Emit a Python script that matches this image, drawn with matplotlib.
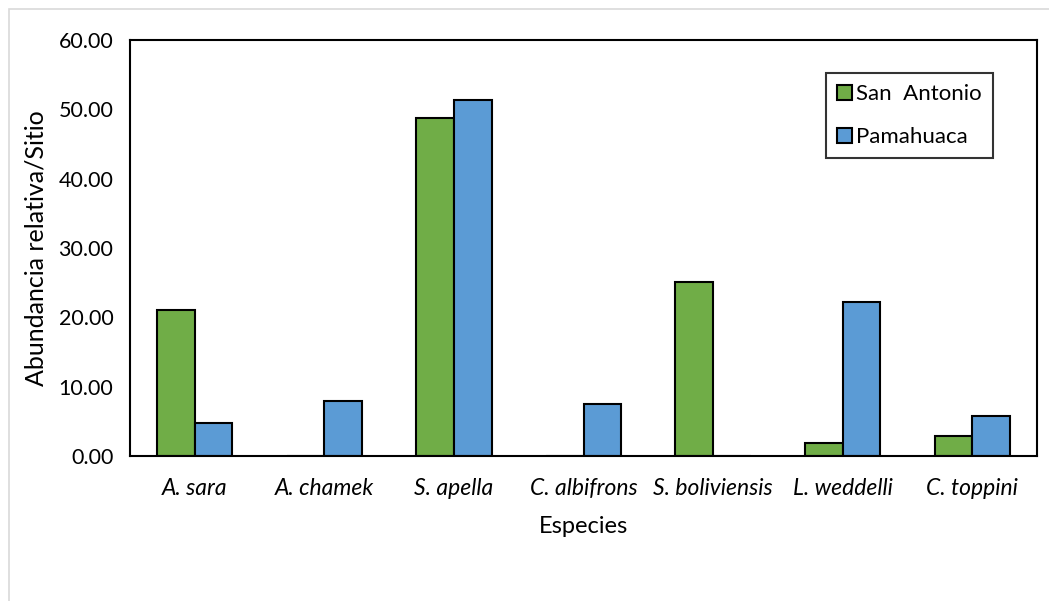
import numpy as np
import matplotlib.pyplot as plt
from matplotlib.patches import Rectangle

plt.rcParams['font.family'] = ['Lato', 'DejaVu Sans']

especies = ['A. sara', 'A. chamek', 'S. apella', 'C. albifrons',
            'S. boliviensis', 'L. weddelli', 'C. toppini']
san_antonio = [21.05, 0, 48.8, 0, 25.1, 1.9, 2.9]
pamahuaca = [4.8, 7.9, 51.4, 7.5, 0, 22.2, 5.8]
yticks = [0, 10, 20, 30, 40, 50, 60]

fig = plt.figure(figsize=(10.49, 6.01), dpi=100)
ax = fig.add_axes([130 / 1049, 1 - 456 / 601, 907 / 1049, 416 / 601])

# light frame around the chart area
fig.patches.append(Rectangle((9 / 1049, -0.05), 1.1, 1 - 9 / 601 + 0.05,
                             transform=fig.transFigure, fill=False,
                             edgecolor='#d9d9d9', linewidth=1.2))

x = np.arange(len(especies))
w = 0.29
ax.bar(x - w / 2, san_antonio, w, color='#70AD47', edgecolor='black',
       linewidth=1.5, label='San  Antonio')
ax.bar(x + w / 2, pamahuaca, w, color='#5B9BD5', edgecolor='black',
       linewidth=1.5, label='Pamahuaca')

ax.set_xlim(-0.5, len(especies) - 0.5)
ax.set_ylim(0, 60)
ax.set_yticks(yticks)
ax.set_yticklabels([f'{v:.2f}' for v in yticks], fontsize=15.5)
ax.set_xticks(x)
ax.set_xticklabels(especies, fontsize=16.5, style='italic')
ax.tick_params(axis='both', length=0)
ax.tick_params(axis='x', pad=16)
ax.tick_params(axis='y', pad=12)
for s in ax.spines.values():
    s.set_linewidth(1.5)

ax.set_xlabel('Especies', fontsize=17, labelpad=12)
ax.set_ylabel('Abundancia relativa/Sitio', fontsize=18, labelpad=8)

leg = ax.legend(loc='upper right', bbox_to_anchor=(0.9515, 0.921), fontsize=16,
                frameon=True, fancybox=False, edgecolor='black',
                handlelength=0.65, handleheight=0.65, handletextpad=0.2,
                labelspacing=1.05, borderpad=0.5, borderaxespad=0)
leg.get_frame().set_linewidth(1.5)

fig.savefig('out.png', dpi=100)
